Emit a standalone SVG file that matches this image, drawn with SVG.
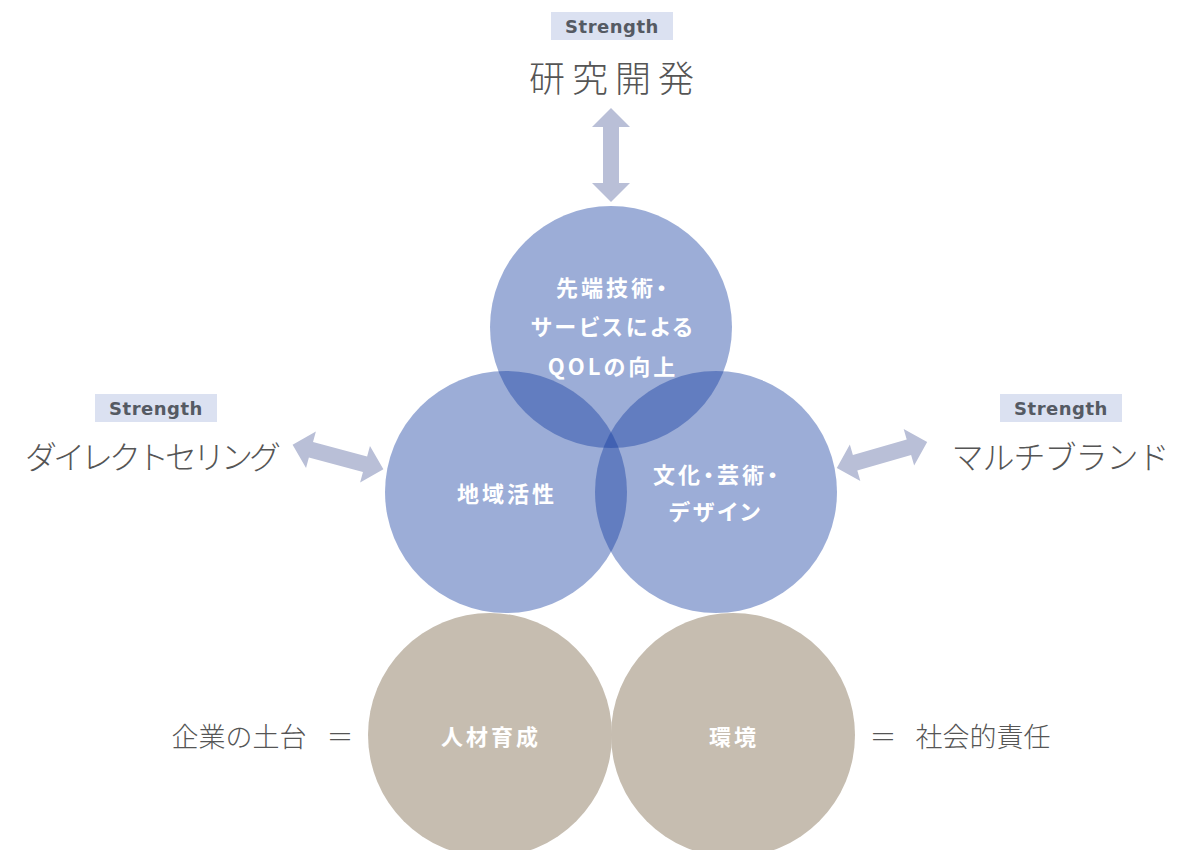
<svg xmlns="http://www.w3.org/2000/svg" width="1195" height="850" viewBox="0 0 1195 850">
<defs>
<style>
.tag{fill:#dbe1f1}
.tagt{font-family:"DejaVu Sans","Noto Sans",sans-serif;font-weight:bold;font-size:18px;fill:#555a63;text-anchor:middle;letter-spacing:0.5px}
.ext{font-family:"Noto Sans CJK JP",sans-serif;font-weight:300;fill:#555;text-anchor:middle}
.blue{fill:#123ca0;fill-opacity:0.42}
.tan{fill:#c6bdb0}
.ct{font-family:"Noto Sans CJK JP",sans-serif;font-weight:bold;font-size:22px;fill:#fff;text-anchor:middle;letter-spacing:3px;font-feature-settings:"palt"}
.arr{fill:#b9bfd7}
</style>
<path id="dbl" d="M -47 0 L -28 -19 L -28 -8 L 28 -8 L 28 -19 L 47 0 L 28 19 L 28 8 L -28 8 L -28 19 Z"/>
</defs>
<rect width="1195" height="850" fill="#fff"/>
<g id="connectors" class="arr">
<use href="#dbl" transform="translate(611,155) rotate(90)"/>
<use href="#dbl" transform="translate(338,457) rotate(15)"/>
<use href="#dbl" transform="translate(882,455) rotate(-16)"/>
</g>
<g id="strength-rd">
<rect class="tag" x="551" y="12" width="122" height="28"/>
<text class="tagt" x="612" y="33">Strength</text>
<text class="ext" x="615" y="92" font-size="36" letter-spacing="7">研究開発</text>
</g>
<g id="strength-direct">
<rect class="tag" x="95" y="394" width="122" height="28"/>
<text class="tagt" x="156" y="415">Strength</text>
<text class="ext" x="151" y="469" font-size="32" letter-spacing="-4">ダイレクトセリング</text>
</g>
<g id="strength-multi">
<rect class="tag" x="1000" y="394" width="122" height="28"/>
<text class="tagt" x="1061" y="415">Strength</text>
<text class="ext" x="1060" y="469" font-size="32" letter-spacing="-1">マルチブランド</text>
</g>
<g id="base-hr">
<circle class="tan" cx="490" cy="735" r="122"/>
<text class="ct" x="491" y="745">人材育成</text>
</g>
<g id="base-env">
<circle class="tan" cx="733" cy="735" r="122"/>
<text class="ct" x="734" y="745">環境</text>
</g>
<g id="circle-qol">
<circle class="blue" cx="611" cy="327" r="121"/>
</g>
<g id="circle-local">
<circle class="blue" cx="506" cy="492" r="121"/>
</g>
<g id="circle-culture">
<circle class="blue" cx="716" cy="492" r="121"/>
</g>
<g id="labels">
<text class="ct" x="613" y="296">先端技術・</text>
<text class="ct" x="613" y="335">サービスによる</text>
<text class="ct" x="613" y="375">QOLの向上</text>
<text class="ct" x="507" y="502">地域活性</text>
<text class="ct" x="717" y="483">文化・芸術・</text>
<text class="ct" x="716" y="520">デザイン</text>
</g>
<g id="foundation-left">
<text class="ext" x="239" y="747" font-size="27">企業の土台</text>
<text class="ext" x="340" y="747" font-size="27">＝</text>
</g>
<g id="foundation-right">
<text class="ext" x="883" y="747" font-size="27">＝</text>
<text class="ext" x="983" y="747" font-size="27">社会的責任</text>
</g>
</svg>
